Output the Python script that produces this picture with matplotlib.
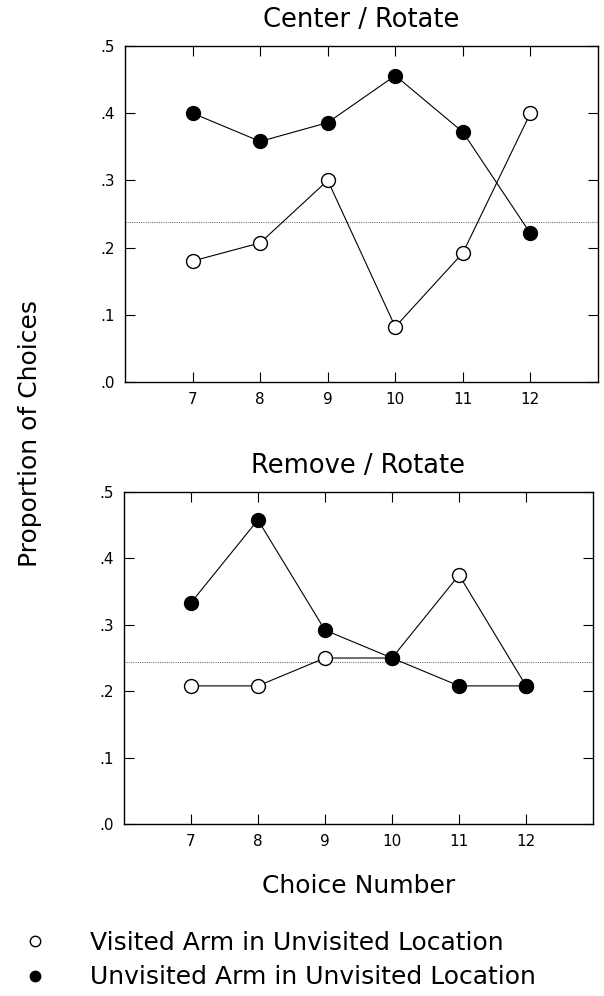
import matplotlib
matplotlib.use("Agg")
import matplotlib.pyplot as plt
from matplotlib.ticker import FuncFormatter

choice = [7, 8, 9, 10, 11, 12]

# Center / Rotate
center_visited = [0.18, 0.207, 0.30, 0.082, 0.192, 0.40]
center_unvisited = [0.40, 0.358, 0.386, 0.456, 0.372, 0.221]
center_chance = 0.238

# Remove / Rotate
remove_visited = [0.208, 0.208, 0.25, 0.25, 0.375, 0.208]
remove_unvisited = [0.333, 0.458, 0.292, 0.25, 0.208, 0.208]
remove_chance = 0.244

titles = ["Center / Rotate", "Remove / Rotate"]
legend_labels = ["Visited Arm in Unvisited Location",
                 "Unvisited Arm in Unvisited Location"]

plt.rcParams["font.family"] = "DejaVu Sans"

fig = plt.figure(figsize=(6.04, 9.96), dpi=100)
ax1 = fig.add_axes([0.207, 0.6165, 0.783, 0.3373])
ax2 = fig.add_axes([0.205, 0.1727, 0.777, 0.3333])


def no_zero(v, pos):
    return ("%.1f" % v).lstrip("0")


def draw(ax, title, visited, unvisited, chance):
    ax.axhline(chance, color="#777777", lw=0.8, ls=(0, (1, 1)), zorder=1)
    lv, = ax.plot(choice, visited, color="black", lw=0.8, marker="o",
                  markersize=10, markerfacecolor="white",
                  markeredgecolor="black", markeredgewidth=1.0, zorder=3)
    lu, = ax.plot(choice, unvisited, color="black", lw=0.8, marker="o",
                  markersize=10, markerfacecolor="black",
                  markeredgecolor="black", zorder=4)
    ax.set_xlim(6, 13)
    ax.set_ylim(0, 0.5)
    ax.set_xticks(choice)
    ax.set_yticks([0, 0.1, 0.2, 0.3, 0.4, 0.5])
    ax.yaxis.set_major_formatter(FuncFormatter(no_zero))
    ax.tick_params(direction="in", top=True, right=True, length=7,
                   width=0.8, labelsize=11, pad=7)
    for s in ax.spines.values():
        s.set_linewidth(1.0)
    ax.set_title(title, fontsize=18.5, pad=14)
    return lv, lu


draw(ax1, titles[0], center_visited, center_unvisited, center_chance)
lv, lu = draw(ax2, titles[1], remove_visited, remove_unvisited, remove_chance)

ax2.set_xlabel("Choice Number", fontsize=18, labelpad=18)
fig.text(0.05, 0.565, "Proportion of Choices", rotation=90,
         ha="center", va="center", fontsize=18)

fig.legend([lv, lu], legend_labels, loc="upper left",
           bbox_to_anchor=(0.037, 0.078), frameon=False, fontsize=18,
           handlelength=0, handletextpad=2.2, markerscale=0.75,
           labelspacing=0.42, numpoints=1, borderpad=0)

fig.savefig("out.png", dpi=100)
